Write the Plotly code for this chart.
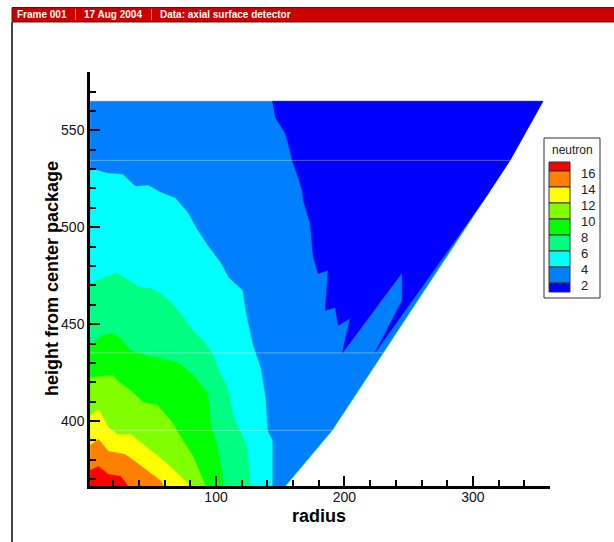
import plotly.graph_objects as go

# ---------------- data ----------------
levels = [2, 4, 6, 8, 10, 12, 14, 16]
band_colors = ["#0000FF", "#0080FF", "#00FFFF", "#00FF80", "#00FF00",
               "#80FF00", "#FFFF00", "#FF8000", "#FF0000"]
x_ticks = [100, 200, 300]
y_ticks = [400, 450, 500, 550]
header_texts = ["Frame 001", "17 Aug 2004", "Data: axial surface detector"]
legend_title = "neutron"
x_title = "radius"
y_title = "height from center package"

# outline of the detector surface (radius, height)
domain_x = [2, 354.5, 328.8, 190.4, 154.0, 2]
domain_y = [565, 565, 534.5, 395.2, 366.5, 366.5]

# heights of the mesh rows that show as faint lines
mesh_rows_y = [534.5, 435.2, 395.2]
mesh_rows_xmax = [328.8, 230.0, 190.4]

# region where neutron < 2
low_x = [143.8, 354.5, 328.8, 308.4, 223.9, 244.9, 244.9, 198.2, 204.4, 195.1,
         192.8, 185.0, 187.3, 179.5, 175.7, 173.3, 167.9, 167.1, 164.0, 159.3,
         156.2, 153.9, 146.1]
low_y = [565, 565, 534.5, 513.9, 435.4, 462.3, 476.7, 435.0, 453.0, 449.4,
         458.7, 457.1, 477.8, 476.2, 484.5, 502.0, 513.9, 519.0, 525.7, 534.5,
         543.3, 548.5, 556.7]

# iso-lines (from the left edge down to the bottom edge)
c4_x = [2, 15.4, 27.1, 37.2, 47.4, 56.7, 68.4, 77.7, 84.7, 93.3, 103.3, 109.6,
        120.5, 122.8, 128.2, 134.5, 138.4, 139.9, 143.8, 143.8]
c4_y = [530.4, 527.8, 527.3, 521.1, 521.6, 518.0, 514.9, 507.7, 499.4, 490.7,
        481.9, 474.1, 467.4, 457.1, 440.1, 427.7, 412.2, 395.2, 390.0, 366.5]
c6_x = [2, 22.5, 31.8, 41.1, 48.9, 56.7, 66.0, 74.6, 83.9, 90.1, 95.6, 103.3,
        108.8, 113.5, 121.2, 124.3, 126.7]
c6_y = [471.1, 476.7, 472.6, 469.0, 468.5, 465.9, 460.7, 453.0, 445.3, 441.6,
        436.5, 424.6, 417.4, 401.9, 391.6, 384.9, 366.5]
c8_x = [2, 11.0, 19.4, 25.6, 33.4, 45.1, 56.7, 70.0, 82.4, 93.3, 95.6, 101.0, 105.7]
c8_y = [439.1, 444.2, 445.3, 442.7, 436.5, 433.9, 432.4, 430.3, 423.6, 414.3,
        398.8, 386.4, 366.5]
c10_x = [2, 19.4, 25.6, 33.4, 43.5, 54.4, 64.5, 74.6, 82.4, 91.7]
c10_y = [422.5, 423.6, 419.5, 415.8, 409.7, 408.1, 400.4, 390.0, 381.3, 366.5]
c12_x = [2, 8.5, 16.2, 23.2, 33.4, 46.6, 59.1, 70.0, 80.0]
c12_y = [402.9, 406.0, 396.8, 393.1, 393.1, 386.4, 379.7, 373.0, 366.5]
c14_x = [2, 8.5, 16.2, 29.5, 38.8, 48.9, 56.7, 59.1]
c14_y = [387.5, 390.6, 384.4, 382.8, 378.2, 373.5, 369.4, 366.5]
c16_x = [2, 8.5, 16.2, 25.6, 29.5, 31.0]
c16_y = [374.6, 376.6, 372.5, 371.5, 368.4, 366.5]

iso_lines = {4: (c4_x, c4_y), 6: (c6_x, c6_y), 8: (c8_x, c8_y), 10: (c10_x, c10_y),
             12: (c12_x, c12_y), 14: (c14_x, c14_y), 16: (c16_x, c16_y)}

# ---------------- figure ----------------
W, H = 614, 542
PL, PR, PT, PB = 90, 550, 72, 486  # plot area in pixels


def xp(px):
    return (px - PL) / (PR - PL)


def yp(py):
    return (PB - py) / (PB - PT)


fig = go.Figure()


def add_region(xs, ys, color):
    fig.add_trace(go.Scatter(x=xs, y=ys, mode="lines", fill="toself",
                             fillcolor=color, line=dict(width=0.5, color=color),
                             hoverinfo="skip", showlegend=False))


add_region(domain_x, domain_y, band_colors[1])
add_region(low_x, low_y, band_colors[0])
for lvl, (cx, cy) in iso_lines.items():
    add_region(cx + [cx[0]], cy + [cy[-1]], band_colors[levels.index(lvl) + 1])

# faint mesh rows
for my, mx in zip(mesh_rows_y, mesh_rows_xmax):
    fig.add_trace(go.Scatter(x=[domain_x[0], mx], y=[my, my], mode="lines",
                             line=dict(color="rgba(255,255,255,0.35)", width=1),
                             hoverinfo="skip", showlegend=False))

shapes = []
annotations = []

# header bar
shapes.append(dict(type="rect", xref="paper", yref="paper", x0=xp(12), x1=xp(616),
                   y0=yp(21.5), y1=yp(7.5), fillcolor="#CC0000",
                   line=dict(color="#8B0000", width=1), layer="above"))
shapes.append(dict(type="line", xref="paper", yref="paper", x0=xp(12), x1=xp(616),
                   y0=yp(22.5), y1=yp(22.5), line=dict(color="#999999", width=1)))
for sx in (75.5, 151.5):
    shapes.append(dict(type="line", xref="paper", yref="paper", x0=xp(sx), x1=xp(sx),
                       y0=yp(9), y1=yp(20), line=dict(color="#F08080", width=1)))
for tx, txt in zip((15, 81.5, 157.5), header_texts):
    annotations.append(dict(x=xp(tx), y=yp(14.5), xref="paper", yref="paper",
                            text="<b>%s</b>" % txt, showarrow=False, xanchor="left",
                            yanchor="middle", font=dict(family="Liberation Sans, Arial",
                                                        size=10, color="white")))
# frame left border
shapes.append(dict(type="line", xref="paper", yref="paper", x0=xp(12), x1=xp(12),
                   y0=yp(22), y1=yp(545), line=dict(color="#444444", width=2)))

# contour legend
shapes.append(dict(type="rect", xref="paper", yref="paper", x0=xp(544), x1=xp(600),
                   y0=yp(298), y1=yp(138), fillcolor="white",
                   line=dict(color="#333333", width=1)))
box_edges = [162] + [171 + 16 * i for i in range(len(levels))] + [292]
for i, col in enumerate(reversed(band_colors)):
    shapes.append(dict(type="rect", xref="paper", yref="paper", x0=xp(549), x1=xp(570),
                       y0=yp(box_edges[i + 1]), y1=yp(box_edges[i]), fillcolor=col,
                       line=dict(color="#333333", width=1)))
annotations.append(dict(x=xp(572), y=yp(150), xref="paper", yref="paper",
                        text=legend_title, showarrow=False, xanchor="center",
                        yanchor="middle", font=dict(family="Liberation Sans, Arial",
                                                    size=12, color="#222222")))
for i, lvl in enumerate(reversed(levels)):
    annotations.append(dict(x=xp(579), y=yp(box_edges[i + 1] + 2), xref="paper",
                            yref="paper", text=str(lvl), showarrow=False,
                            xanchor="left", yanchor="middle",
                            font=dict(family="Liberation Sans, Arial", size=13,
                                      color="#222222")))

# axis titles
annotations.append(dict(x=xp(319), y=yp(516), xref="paper", yref="paper",
                        text="<b>%s</b>" % x_title, showarrow=False,
                        xanchor="center", yanchor="middle",
                        font=dict(family="Liberation Sans, Arial", size=18, color="black")))
annotations.append(dict(x=xp(52), y=yp(279), xref="paper", yref="paper",
                        text="<b>%s</b>" % y_title, showarrow=False, textangle=-90,
                        xanchor="center", yanchor="middle",
                        font=dict(family="Liberation Sans, Arial", size=18, color="black")))

axis_common = dict(showline=True, linecolor="black", linewidth=2.5, ticks="inside",
                   ticklen=10, tickwidth=2, tickcolor="black", showgrid=False,
                   zeroline=False, mirror=False,
                   tickfont=dict(family="Liberation Sans, Arial", size=14, color="#111111"))

fig.update_layout(
    width=W, height=H,
    margin=dict(l=PL, r=W - PR, t=PT, b=H - PB, pad=0),
    paper_bgcolor="white", plot_bgcolor="white",
    xaxis=dict(range=[1.9, 360], tickvals=x_ticks, ticklabelstandoff=-4,
               minor=dict(ticks="inside", ticklen=6, tickwidth=1.5, dtick=20, tick0=0,
                          tickcolor="black", showgrid=False),
               **axis_common),
    yaxis=dict(range=[366.5, 580.1], tickvals=y_ticks,
               minor=dict(ticks="inside", ticklen=6, tickwidth=1.5, dtick=10, tick0=0,
                          tickcolor="black", showgrid=False),
               **axis_common),
    shapes=shapes,
    annotations=annotations,
    showlegend=False,
)

fig.write_html("out.html",
               config={"displayModeBar": False},
               post_script="document.body.style.margin='0px';"
                           "document.body.style.overflow='hidden';")
